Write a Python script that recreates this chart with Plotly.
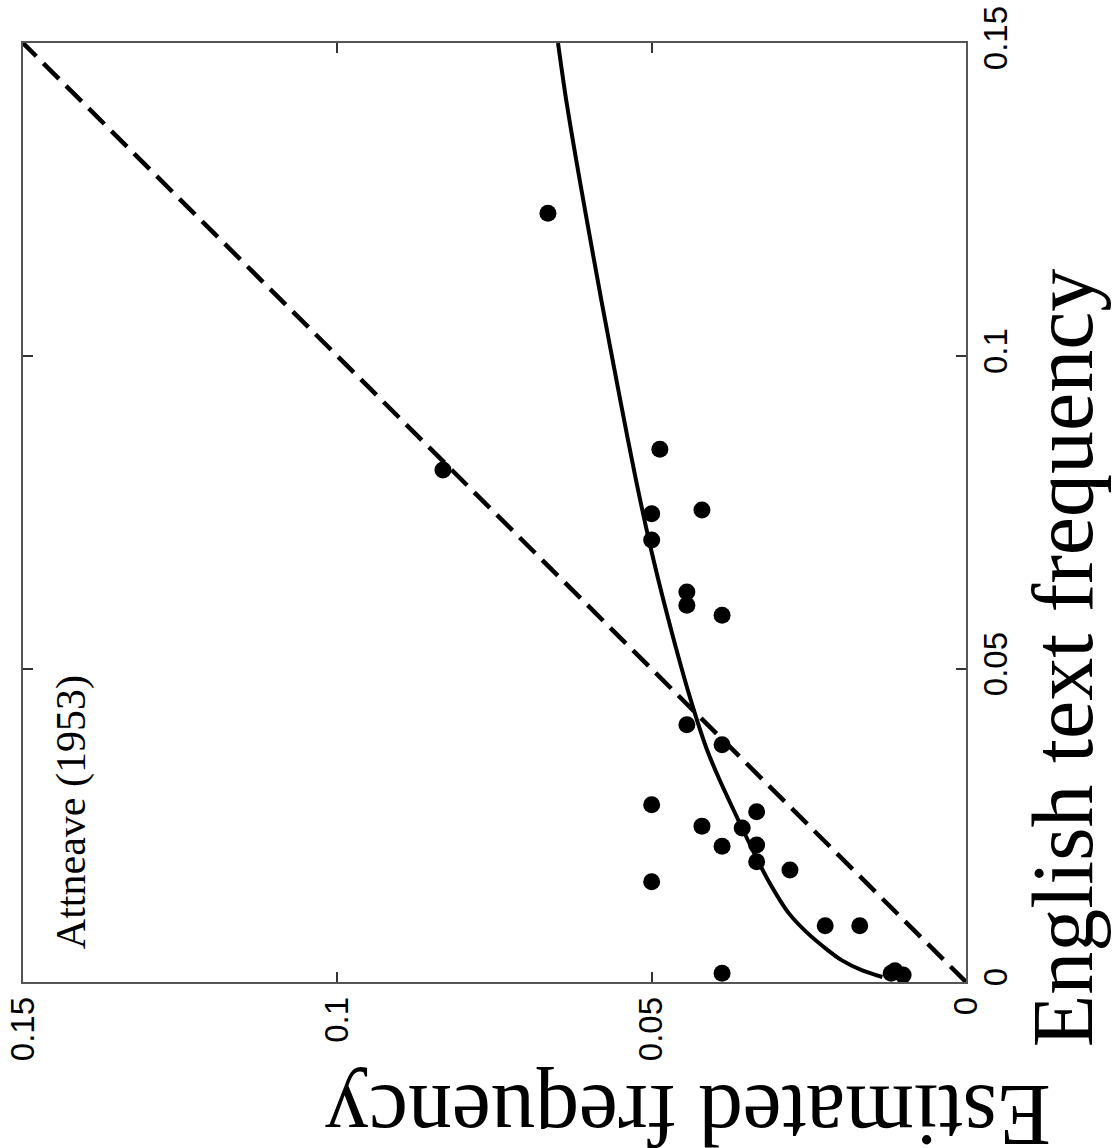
import plotly.graph_objects as go

# English text frequency (original x) and estimated frequency (original y)
english_freq = [0.1228, 0.0818, 0.0851, 0.0748, 0.0754, 0.0706, 0.0623, 0.0602, 0.0586,
                0.0411, 0.0379, 0.0283, 0.0249, 0.0272, 0.0246, 0.0217, 0.0219, 0.0192,
                0.0179, 0.0160, 0.0090, 0.0090, 0.0014, 0.0018, 0.0011, 0.0014]
estimated_freq = [0.0665, 0.0832, 0.0487, 0.0500, 0.0420, 0.0500, 0.0444, 0.0444, 0.0388,
                  0.0444, 0.0388, 0.0500, 0.0420, 0.0333, 0.0356, 0.0388, 0.0333, 0.0333,
                  0.0280, 0.0500, 0.0224, 0.0169, 0.0388, 0.0113, 0.0100, 0.0119]

# fitted curve
fit_english = [0.1500, 0.1409, 0.1313, 0.1222, 0.1089, 0.0930, 0.0802, 0.0674, 0.0551,
               0.0451, 0.0371, 0.0323, 0.0254, 0.0206, 0.0163, 0.0110, 0.0078, 0.0051,
               0.0035, 0.0019, 0.0008]
fit_estimated = [0.0649, 0.0636, 0.0620, 0.0604, 0.0580, 0.0550, 0.0525, 0.0497, 0.0466,
                 0.0438, 0.0412, 0.0392, 0.0360, 0.0337, 0.0315, 0.0282, 0.0252, 0.0220,
                 0.0198, 0.0166, 0.0133]

identity = [0.0, 0.15]

tick_vals = [0, 0.05, 0.1, 0.15]
tick_text = ["0", "0.05", "0.1", "0.15"]

fig = go.Figure()
# The whole chart is shown rotated 90 degrees counter-clockwise:
# plotly x = estimated frequency (reversed), plotly y = English text frequency
fig.add_trace(go.Scatter(x=identity, y=identity, mode="lines",
                         line=dict(color="black", width=4.5, dash="22px,10px"),
                         hoverinfo="skip", showlegend=False))
fig.add_trace(go.Scatter(x=fit_estimated, y=fit_english, mode="lines",
                         line=dict(color="black", width=4, shape="spline", smoothing=0.8),
                         showlegend=False))
fig.add_trace(go.Scatter(x=estimated_freq, y=english_freq, mode="markers",
                         marker=dict(color="black", size=17, symbol="circle"),
                         showlegend=False))

tickfont = dict(family="Arial, Liberation Sans, sans-serif", size=33, color="black")
common = dict(tickvals=tick_vals, ticktext=tick_text, tickangle=-90,
              ticks="inside", ticklen=10, tickwidth=1.5, tickcolor="#333",
              showline=True, linecolor="#555", linewidth=1.5, mirror="ticks",
              showgrid=False, zeroline=False, tickfont=tickfont, automargin=False)
fig.update_xaxes(range=[0.15, 0], **common)
fig.update_yaxes(range=[0, 0.15], side="right", **common)

serif = "Times New Roman, Liberation Serif, serif"
fig.add_annotation(text="English text frequency", xref="paper", yref="paper",
                   x=1.103, y=0.345, xanchor="center", yanchor="middle",
                   textangle=-90, showarrow=False,
                   font=dict(family=serif, size=86, color="black"))
fig.add_annotation(text="Estimated frequency", xref="paper", yref="paper",
                   x=0.705, y=-0.142, xanchor="center", yanchor="middle",
                   textangle=180, showarrow=False,
                   font=dict(family=serif, size=88, color="black"))
fig.add_annotation(text="Attneave (1953)", xref="paper", yref="paper",
                   x=0.051, y=0.181, xanchor="center", yanchor="middle",
                   textangle=-90, showarrow=False,
                   font=dict(family=serif, size=42, color="black"))

fig.update_layout(width=1115, height=1148,
                  margin=dict(l=23, r=149, t=43, b=166),
                  plot_bgcolor="white", paper_bgcolor="white")

fig.write_html("out.html")
